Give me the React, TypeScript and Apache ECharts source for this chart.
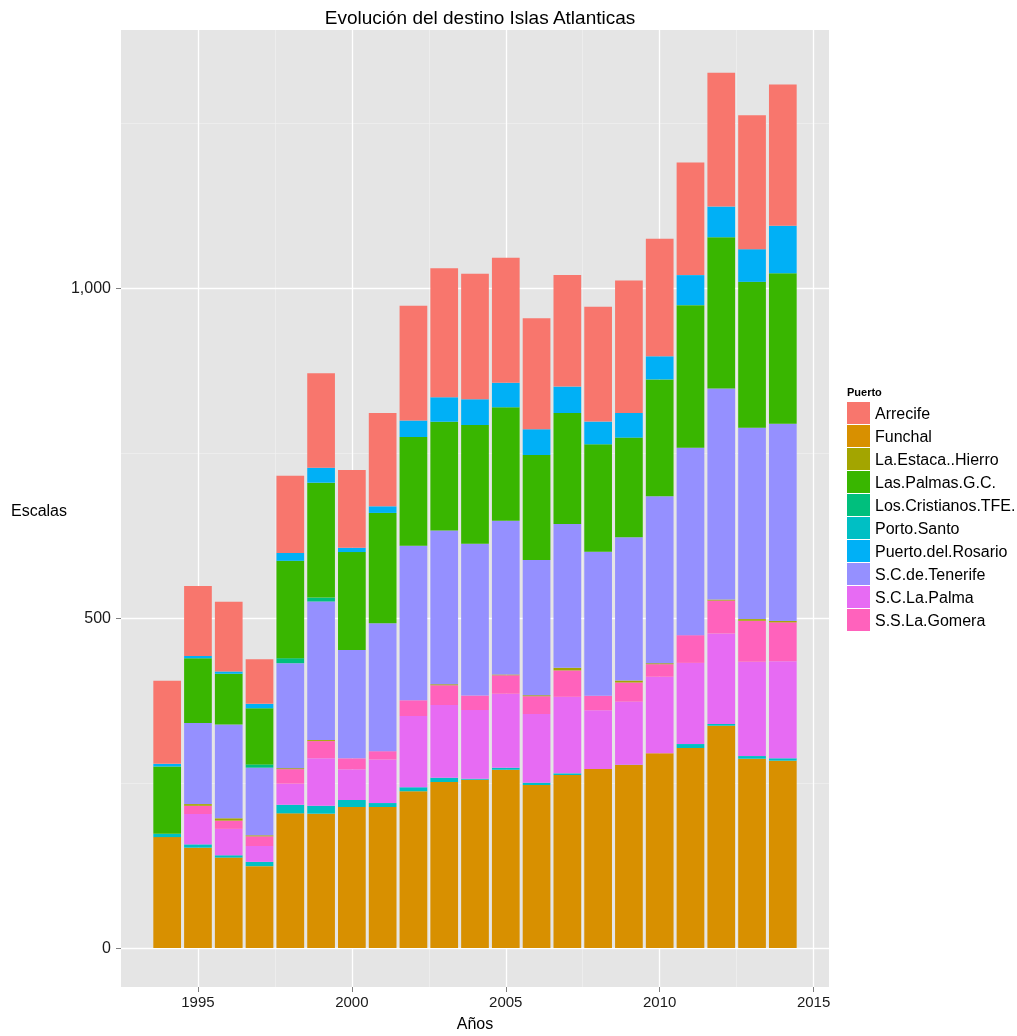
import React, { useEffect, useRef } from 'react';
import * as echarts from 'echarts';

const categories = ['1993', '1994', '1995', '1996', '1997', '1998', '1999', '2000', '2001', '2002', '2003', '2004', '2005', '2006', '2007', '2008', '2009', '2010', '2011', '2012', '2013', '2014', '2015'];

// values for 1993..2015 (1993 and 2015 have no bar)
const funchal = [null, 168, 152, 137, 124, 204, 203.5, 213.6, 213.6, 237.4, 251.5, 255, 270.2, 247, 262.1, 271.2, 277.3, 295, 303, 336.8, 286.8, 283.8, null];
const portoSanto = [null, 5, 5, 3.5, 6.5, 13, 12, 10.6, 6, 6, 6.5, 1.5, 3, 3.5, 2.5, 0, 0.5, 0, 6, 2.6, 4, 3.6, null];
const scLaPalma = [null, 0, 46, 40, 24, 32, 72, 46.5, 66, 108, 110, 104, 112, 104, 116, 89, 95.5, 116, 123, 137, 143, 147, null];
const ssLaGomera = [null, 0, 12.5, 12.5, 14.7, 22, 26, 16.7, 12.6, 24, 30, 22, 28, 27, 40, 22, 29, 19, 42, 50, 62, 59, null];
const laEstacaHierro = [null, 0, 2.5, 3.5, 1.5, 1.5, 1.5, 0, 0, 0, 1.5, 0, 1, 1.5, 4, 0, 3, 1.5, 0, 1.5, 2.5, 2, null];
const scTenerife = [null, 0, 123, 142, 102.5, 159, 210, 164, 194, 234, 233, 230, 233, 205, 218, 218, 217, 253, 284, 320, 290, 299, null];
const losCristianos = [null, 0, 0, 0, 5, 7.6, 6, 0, 0, 0, 0, 0, 0, 0, 0, 0, 0, 0, 0, 0, 0, 0, null];
const lasPalmas = [null, 102, 98, 77, 85, 147.5, 174, 148.5, 167, 165, 165, 180, 172, 159, 168, 163, 151, 177, 216, 229, 221, 228, null];
const puertoRosario = [null, 4, 3.5, 3.5, 6.7, 12, 22.7, 6.5, 10, 24.7, 37, 39, 37.4, 39, 40, 34.4, 37.3, 35, 45.5, 46.5, 49.5, 72, null];
const arrecife = [null, 126, 106, 105.5, 67.7, 117, 143, 117.7, 141.4, 174, 195.5, 190, 189.4, 168, 169, 174, 200.6, 178, 170.6, 202.6, 203, 214, null];

// stacking order bottom -> top
const stackSeries: [string, (number | null)[], string][] = [
  ['Funchal', funchal, '#D89000'],
  ['Porto.Santo', portoSanto, '#00BFC4'],
  ['S.C.La.Palma', scLaPalma, '#E76BF3'],
  ['S.S.La.Gomera', ssLaGomera, '#FF62BC'],
  ['La.Estaca..Hierro', laEstacaHierro, '#A3A500'],
  ['S.C.de.Tenerife', scTenerife, '#9590FF'],
  ['Los.Cristianos.TFE.', losCristianos, '#00BF7D'],
  ['Las.Palmas.G.C.', lasPalmas, '#39B600'],
  ['Puerto.del.Rosario', puertoRosario, '#00B0F6'],
  ['Arrecife', arrecife, '#F8766D'],
];

const legendOrder = ['Arrecife', 'Funchal', 'La.Estaca..Hierro', 'Las.Palmas.G.C.', 'Los.Cristianos.TFE.', 'Porto.Santo', 'Puerto.del.Rosario', 'S.C.de.Tenerife', 'S.C.La.Palma', 'S.S.La.Gomera'];

const yTicks = [0, 500, 1000];
const yMinor = [250, 750, 1250];
const xTicks = [1995, 2000, 2005, 2010, 2015];
const xMinor = [1997.5, 2002.5, 2007.5, 2012.5];

const FONT = '"Liberation Sans", Arial, Helvetica, sans-serif';

export default function App() {
  const ref = useRef<HTMLDivElement>(null);
  useEffect(() => {
    if (!ref.current) return;
    const chart = echarts.init(ref.current, null, { renderer: 'svg' });
    const major = { color: '#FFFFFF', width: 1.3, type: 'solid' };
    const minor = { color: '#F2F2F2', width: 0.6, type: 'solid' };
    const gridLines = [
      ...yMinor.map((v) => ({ yAxis: v, lineStyle: minor })),
      ...xMinor.map((v) => ({ xAxis: v, lineStyle: minor })),
      ...yTicks.map((v) => ({ yAxis: v, lineStyle: major })),
      ...xTicks.map((v) => ({ xAxis: v, lineStyle: major })),
    ];
    const bars = stackSeries.map(([name, vals, color]) => ({
      name,
      type: 'bar',
      stack: 'total',
      xAxisIndex: 0,
      yAxisIndex: 0,
      barWidth: '90%',
      z: 2,
      itemStyle: { color },
      emphasis: { disabled: true },
      data: vals,
    }));
    const gridSeries = {
      name: '__grid',
      type: 'line',
      xAxisIndex: 1,
      yAxisIndex: 0,
      silent: true,
      symbol: 'none',
      lineStyle: { opacity: 0 },
      data: [[2000, 0]],
      z: 1,
      markLine: {
        silent: true,
        z: 1,
        symbol: ['none', 'none'],
        label: { show: false },
        animation: false,
        emphasis: { disabled: true },
        data: gridLines,
      },
    };
    chart.setOption({
      animation: false,
      textStyle: { fontFamily: FONT },
      title: {
        text: 'Evolución del destino Islas Atlanticas',
        left: 475,
        top: 3,
        textAlign: 'center',
        textStyle: { fontSize: 19, fontWeight: 'normal', color: '#000', fontFamily: FONT },
      },
      grid: {
        left: 121,
        top: 30,
        width: 708,
        height: 957,
        show: true,
        backgroundColor: '#E5E5E5',
        borderWidth: 0,
        containLabel: false,
      },
      xAxis: [
        {
          type: 'category',
          data: categories,
          show: false,
          boundaryGap: true,
        },
        {
          type: 'value',
          min: 1992.5,
          max: 2015.5,
          position: 'bottom',
          splitLine: { show: false },
          axisLine: { show: false },
          axisTick: { show: true, customValues: xTicks, length: 5, lineStyle: { color: '#7F7F7F' } },
          axisLabel: { customValues: xTicks, margin: 7, fontSize: 15, color: '#1A1A1A', fontFamily: FONT, formatter: (v: number) => String(v) },
        },
      ],
      yAxis: {
        type: 'value',
        min: -59.1,
        max: 1390.9,
        splitLine: { show: false },
        axisLine: { show: false },
        axisTick: { show: true, customValues: yTicks, length: 5, lineStyle: { color: '#7F7F7F' } },
        axisLabel: {
          customValues: yTicks,
          margin: 10,
          fontSize: 16,
          color: '#1A1A1A',
          fontFamily: FONT,
          formatter: (v: number) => v.toLocaleString('en-US'),
        },
      },
      legend: {
        orient: 'vertical',
        left: 847,
        top: 402,
        padding: 0,
        itemWidth: 23,
        itemHeight: 22,
        itemGap: 1,
        icon: 'rect',
        selectedMode: false,
        data: legendOrder,
        textStyle: { fontSize: 16, color: '#000', fontFamily: FONT },
      },
      graphic: [
        { type: 'text', left: 847, top: 386, style: { text: 'Puerto', fontSize: 11, fontWeight: 'bold', fill: '#000', fontFamily: FONT } },
        { type: 'text', x: 39, y: 510, style: { text: 'Escalas', fontSize: 16, fill: '#000', fontFamily: FONT, textAlign: 'center', textVerticalAlign: 'middle' } },
        { type: 'text', x: 475, y: 1023, style: { text: 'Años', fontSize: 16, fill: '#000', fontFamily: FONT, textAlign: 'center', textVerticalAlign: 'middle' } },
      ],
      series: [gridSeries, ...bars],
    });
    return () => chart.dispose();
  }, []);
  return <div ref={ref} style={{ position: 'fixed', left: 0, top: 0, width: 1017, height: 1036 }} />;
}
